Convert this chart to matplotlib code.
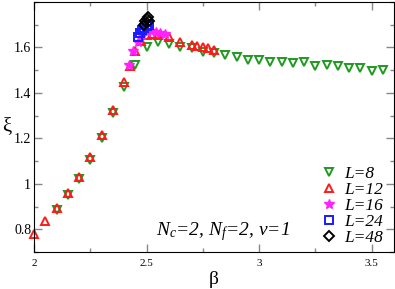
import matplotlib
matplotlib.use('Agg')
import matplotlib.pyplot as plt
from matplotlib.ticker import MultipleLocator

plt.rcParams['font.family'] = 'Liberation Serif'
plt.rcParams['mathtext.fontset'] = 'custom'
plt.rcParams['mathtext.rm'] = 'Liberation Serif:italic'
plt.rcParams['mathtext.it'] = 'Liberation Serif:italic'

# L=8
beta_8 = [2.10, 2.15, 2.20, 2.25, 2.30, 2.35, 2.40, 2.45, 2.50, 2.55, 2.60, 2.65,
          2.70, 2.75, 2.80, 2.85, 2.90, 2.95, 3.00, 3.05, 3.10, 3.15, 3.20, 3.25,
          3.30, 3.35, 3.40, 3.45, 3.50, 3.55]
xi_8 = [0.885, 0.950, 1.020, 1.105, 1.200, 1.310, 1.425, 1.525, 1.600, 1.622, 1.615, 1.600,
        1.596, 1.580, 1.574, 1.565, 1.556, 1.547, 1.543, 1.535, 1.534, 1.530, 1.534, 1.517,
        1.525, 1.517, 1.508, 1.508, 1.495, 1.500]

# L=12
beta_12 = [2.00, 2.05, 2.10, 2.15, 2.20, 2.25, 2.30, 2.35, 2.40, 2.425, 2.45, 2.475,
           2.50, 2.525, 2.55, 2.60, 2.65, 2.70, 2.725, 2.75, 2.775, 2.80]
xi_12 = [0.778, 0.835, 0.892, 0.958, 1.030, 1.116, 1.213, 1.323, 1.450, 1.520, 1.585, 1.630,
         1.655, 1.660, 1.655, 1.644, 1.622, 1.609, 1.607, 1.600, 1.598, 1.591]

# L=16
beta_16 = [2.42, 2.44, 2.46, 2.48, 2.50, 2.52, 2.54, 2.56, 2.58]
xi_16 = [1.525, 1.585, 1.625, 1.655, 1.668, 1.672, 1.668, 1.664, 1.660]

# L=24
beta_24 = [2.46, 2.47, 2.48, 2.49, 2.50, 2.51]
xi_24 = [1.645, 1.665, 1.675, 1.685, 1.695, 1.700]

# L=48
beta_48 = [2.49, 2.495, 2.50, 2.505, 2.51]
xi_48 = [1.700, 1.715, 1.725, 1.732, 1.715]

fig = plt.figure(figsize=(3.95, 2.89), dpi=100)
ax = fig.add_axes([34 / 395, 37 / 289, 360 / 395, 250 / 289])

ms = 6
kw = dict(ls='none', clip_on=False)
ax.plot(beta_8, xi_8, 'v', ms=ms, mfc='none', mec='#1f9a1f', mew=1.4, label='L=8', **kw)
ax.plot(beta_12, xi_12, '^', ms=ms, mfc='none', mec='#ff1a1a', mew=1.4, label='L=12', **kw)
ax.plot(beta_16, xi_16, '*', ms=ms + 1, mfc='#ff22ff', mec='#ff22ff', mew=1.0, label='L=16', **kw)
ax.plot(beta_24, xi_24, 's', ms=ms - 0.5, mfc='none', mec='#1a1aff', mew=1.4, label='L=24', **kw)
ax.plot(beta_48, xi_48, 'D', ms=ms - 1, mfc='none', mec='black', mew=1.4, label='L=48', **kw)

ax.set_xlim(2.0, 3.6)
ax.set_ylim(0.7, 1.8)
ax.xaxis.set_minor_locator(MultipleLocator(0.25))
ax.yaxis.set_minor_locator(MultipleLocator(0.1))
ax.set_xticks([2, 2.5, 3, 3.5])
ax.set_xticklabels(['2', '2.5', '3', '3.5'])
ax.set_yticks([0.8, 1.0, 1.2, 1.4, 1.6])
ax.set_yticklabels(['0.8', '1', '1.2', '1.4', '1.6'])

ax.tick_params(which='both', direction='in', top=True, right=True, color='#888888')
ax.tick_params(which='major', length=6, width=1)
ax.tick_params(which='minor', length=3, width=1)
ax.tick_params(axis='x', labelsize=8, pad=5)
ax.tick_params(axis='y', labelsize=10, pad=2)

ax.set_xlabel('β', fontsize=14, labelpad=2)
ax.set_ylabel('ξ', fontsize=15, rotation=0, va='center', labelpad=6)
ax.yaxis.set_label_coords(-0.075, 0.5)

ax.text(2.54, 0.775, r'$N_c$=2, $N_f$=2, $v$=1', fontsize=14, style='italic')

leg = ax.legend(loc='lower right', bbox_to_anchor=(1.014, -0.04), frameon=False,
                handletextpad=0.3, handlelength=1.2, labelspacing=0.0,
                prop={'style': 'italic', 'size': 12.5, 'family': 'Liberation Serif'})

fig.savefig('out.png', dpi=100)
